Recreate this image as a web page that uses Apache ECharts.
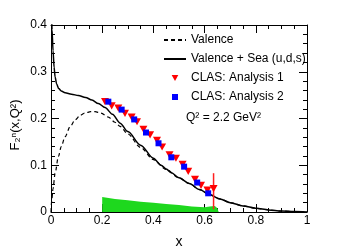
<!DOCTYPE html>
<html><head><meta charset="utf-8">
<script src="https://cdn.jsdelivr.net/npm/echarts@6/dist/echarts.min.js"></script>
<style>html,body{margin:0;padding:0;background:#fff}#c{width:341px;height:250px}</style>
</head><body><div id="c"></div>
<script>
// Valence (dashed)
const valenceX = [0, 0.003, 0.008, 0.016, 0.029, 0.04, 0.055, 0.075, 0.094, 0.115, 0.133, 0.155, 0.172, 0.195, 0.224, 0.25, 0.27, 0.3, 0.35, 0.4, 0.45, 0.5, 0.54, 0.58, 0.62, 0.66, 0.7, 0.75, 0.8, 0.85, 0.9, 0.95, 1.0];
const valenceY = [0, 0.026, 0.05, 0.083, 0.119, 0.14, 0.161, 0.183, 0.197, 0.207, 0.212, 0.2145, 0.2145, 0.2115, 0.203, 0.192, 0.183, 0.167, 0.138, 0.112, 0.091, 0.073, 0.061, 0.048, 0.037, 0.028, 0.02, 0.013, 0.008, 0.0045, 0.002, 0.001, 0];
// Valence + Sea (solid)
const totalX = [0.002, 0.004, 0.008, 0.012, 0.016, 0.022, 0.03, 0.04, 0.055, 0.08, 0.107, 0.135, 0.16, 0.185, 0.211, 0.24, 0.27, 0.3, 0.35, 0.4, 0.43, 0.45, 0.47, 0.5, 0.54, 0.58, 0.62, 0.66, 0.7, 0.75, 0.8, 0.85, 0.9, 0.95, 1.0];
const totalY = [0.44, 0.39, 0.345, 0.31, 0.289, 0.274, 0.264, 0.259, 0.255, 0.252, 0.249, 0.245, 0.2395, 0.232, 0.2235, 0.209, 0.19, 0.172, 0.143, 0.115, 0.1, 0.092, 0.084, 0.073, 0.061, 0.048, 0.037, 0.028, 0.02, 0.013, 0.008, 0.0045, 0.002, 0.001, 0];
// CLAS Analysis 1
const clas1X = [0.211, 0.237, 0.263, 0.289, 0.315, 0.336, 0.361, 0.387, 0.414, 0.434, 0.463, 0.488, 0.514, 0.536, 0.5625, 0.586, 0.611, 0.635];
const clas1Y = [0.236, 0.227, 0.222, 0.211, 0.203, 0.193, 0.177, 0.165, 0.153, 0.139, 0.122, 0.115, 0.102, 0.087, 0.070, 0.057, 0.047, 0.050];
const clas1Lo = [0.236, 0.227, 0.222, 0.211, 0.203, 0.193, 0.177, 0.165, 0.153, 0.139, 0.122, 0.115, 0.102, 0.087, 0.070, 0.057, 0.044, 0.006];
const clas1Hi = [0.236, 0.227, 0.222, 0.211, 0.203, 0.193, 0.177, 0.165, 0.153, 0.139, 0.122, 0.115, 0.102, 0.087, 0.070, 0.057, 0.050, 0.083];
// CLAS Analysis 2
const clas2X = [0.224, 0.276, 0.325, 0.371, 0.42, 0.47, 0.52, 0.571, 0.614];
const clas2Y = [0.236, 0.219, 0.198, 0.170, 0.147, 0.117, 0.097, 0.063, 0.040];
const clas2Lo = [0.236, 0.219, 0.198, 0.170, 0.147, 0.117, 0.097, 0.063, 0.035];
const clas2Hi = [0.236, 0.219, 0.198, 0.170, 0.147, 0.117, 0.097, 0.063, 0.046];
// systematic band
const bandX = [0.2, 0.25, 0.3, 0.35, 0.4, 0.45, 0.5, 0.55, 0.6, 0.62, 0.64, 0.65, 0.655];
const bandY = [0.032, 0.028, 0.025, 0.022, 0.020, 0.017, 0.015, 0.012, 0.010, 0.012, 0.013, 0.008, 0];
const xTicks = [0, 0.2, 0.4, 0.6, 0.8, 1];
const yTicks = [0, 0.1, 0.2, 0.3, 0.4];

const zip = (a, b) => a.map((v, i) => [v, b[i]]);
const FONT = 'Liberation Sans';
const chart = echarts.init(document.getElementById('c'), null, {renderer: 'canvas'});
const TRI_DOWN = 'path://M0,0 L10,0 L5,9 Z';
const SQUARE = 'path://M0,0 L10,0 L10,10 L0,10 Z';

function axis(pos, showLabel, min, max, interval, split) {
  return {
    type: 'value', position: pos, min: min, max: max, interval: interval,
    axisLine: {show: true, onZero: false, lineStyle: {color: '#000', width: 1}},
    axisTick: {show: true, inside: true, length: 8, lineStyle: {color: '#000'}},
    minorTick: {show: true, splitNumber: split, length: 4, lineStyle: {color: '#000'}},
    splitLine: {show: false},
    axisLabel: {show: showLabel, color: '#000', fontSize: 12, fontFamily: FONT, margin: (pos === 'bottom' ? 3 : 4), hideOverlap: false},
  };
}
const errRender = function (params, api) {
  const lo = api.coord([api.value(0), api.value(1)]);
  const hi = api.coord([api.value(0), api.value(2)]);
  return {type: 'line', shape: {x1: lo[0], y1: lo[1], x2: hi[0], y2: hi[1]}, style: {stroke: api.value(3) ? '#0000ff' : '#ff2020', lineWidth: 1.5}};
};

const xB = axis('bottom', true, xTicks[0], xTicks[xTicks.length - 1], 0.2, 4);
Object.assign(xB, {name: 'x', nameLocation: 'middle', nameGap: 23, nameTextStyle: {color: '#000', fontSize: 14, fontFamily: FONT}});

chart.setOption({
  animation: false,
  grid: {left: 51, right: 34, top: 25, bottom: 38, containLabel: false, outerBoundsMode: 'none'},
  xAxis: [xB, axis('top', false, 0, 1, 0.2, 4)],
  yAxis: [axis('left', true, yTicks[0], yTicks[yTicks.length - 1], 0.1, 5), axis('right', false, 0, 0.4, 0.1, 5)],
  legend: {
    orient: 'vertical', left: 158, top: 28, itemWidth: 22, itemHeight: 6, itemGap: 5,
    symbolKeepAspect: true, symbolRotate: 0,
    textStyle: {color: '#000', fontSize: 12, fontFamily: FONT, lineHeight: 14},
    data: ['Valence', 'Valence + Sea (u,d,s)', 'CLAS: Analysis 1', 'CLAS: Analysis 2']
  },
  graphic: [
    {type: 'text', left: 186, top: 112, style: {text: 'Q² = 2.2 GeV²', font: '12px ' + FONT, fill: '#000'}},
    {type: 'text', x: 15, y: 125, rotation: Math.PI / 2, style: {text: 'F₂ⁿ(x,Q²)', font: '13px ' + FONT, fill: '#000', align: 'center', verticalAlign: 'middle'}}
  ],
  series: [
    {name: 'band', type: 'line', data: zip(bandX, bandY), symbol: 'none', lineStyle: {width: 0}, itemStyle: {color: '#1ed81e'}, areaStyle: {color: '#1ed81e', opacity: 1}, z: 1},
    {name: 'Valence', type: 'line', data: zip(valenceX, valenceY), symbol: 'none', smooth: 0.3, smoothMonotone: 'x', lineStyle: {color: '#000', width: 1.2, type: [4, 3]}, itemStyle: {color: 'rgba(0,0,0,0)'}, z: 2},
    {name: 'Valence + Sea (u,d,s)', type: 'line', data: zip(totalX, totalY), symbol: 'none', smooth: 0.3, smoothMonotone: 'x', lineStyle: {color: '#000', width: 1.5}, itemStyle: {color: 'rgba(0,0,0,0)'}, z: 2},
    {name: 'err1', type: 'custom', renderItem: errRender, data: clas1X.map((x, i) => [x, clas1Lo[i], clas1Hi[i], 0]), z: 3, silent: true},
    {name: 'err2', type: 'custom', renderItem: errRender, data: clas2X.map((x, i) => [x, clas2Lo[i], clas2Hi[i], 1]), z: 3, silent: true},
    {name: 'CLAS: Analysis 1', type: 'scatter', data: zip(clas1X, clas1Y), symbol: TRI_DOWN, symbolKeepAspect: true, symbolSize: 8, itemStyle: {color: '#ff0000', opacity: 1}, z: 4},
    {name: 'CLAS: Analysis 2', type: 'scatter', data: zip(clas2X, clas2Y), symbol: SQUARE, symbolKeepAspect: true, symbolSize: 6, itemStyle: {color: '#0000ff', opacity: 1}, z: 5}
  ]
});
</script>
</body></html>
